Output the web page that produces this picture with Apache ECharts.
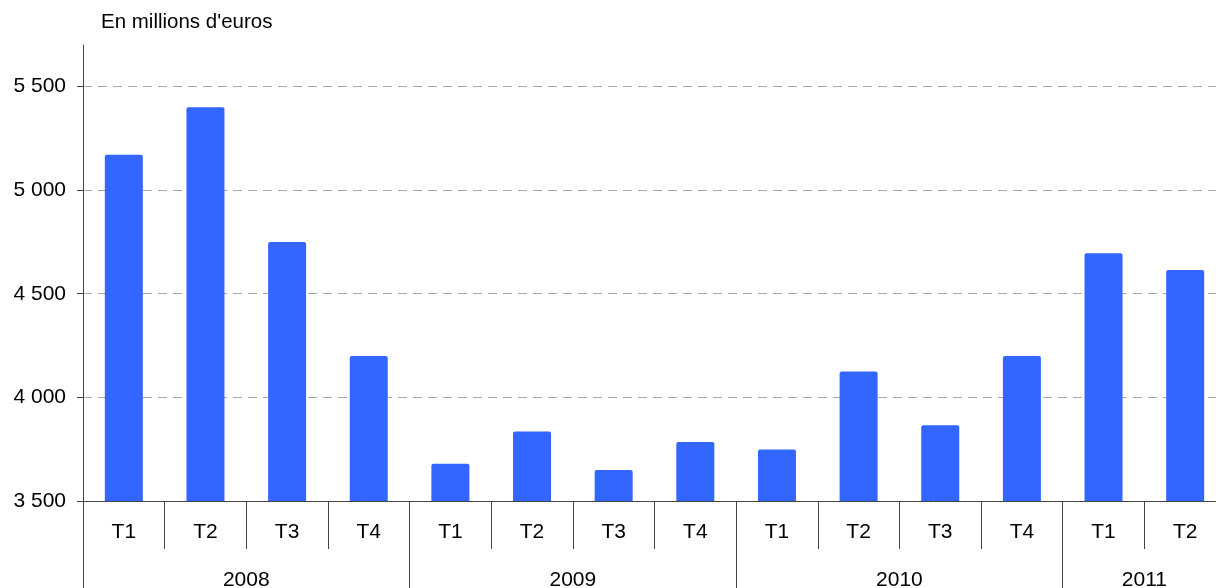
<!DOCTYPE html>
<html>
<head>
<meta charset="utf-8">
<script src="https://cdn.jsdelivr.net/npm/echarts@6/dist/echarts.min.js"></script>
<style>
html,body{margin:0;padding:0;background:#fff;}
#c{width:1216px;height:588px;}
</style>
</head>
<body>
<div id="c"></div>
<script>
var quarters = ['T1','T2','T3','T4','T1','T2','T3','T4','T1','T2','T3','T4','T1','T2'];
var values = [5170, 5400, 4750, 4200, 3680, 3835, 3650, 3785, 3748, 4125, 3865, 4200, 4695, 4615];
var years = ['2008','2009','2010','2011'];
var quartersPerYear = [4, 4, 4, 2];
var unitLabel = "En millions d'euros";
var yTicks = [3500, 4000, 4500, 5000, 5500];

// Year axis on a half-category grid (boundaryGap false) so labels sit at group centers
var yearCats = [];
var yearTickIdx = [];
var pos = 0;
for (var i = 0; i < 29; i++) yearCats.push('');
for (var y = 0; y < years.length; y++) {
  yearTickIdx.push(pos * 2);
  var center = pos + quartersPerYear[y] / 2;
  yearCats[center * 2] = years[y];
  pos += quartersPerYear[y];
}

function fmt(v) {
  return String(v).replace(/\B(?=(\d{3})+(?!\d))/g, ' ');
}

var chart = echarts.init(document.getElementById('c'), null, {renderer: 'canvas'});
var FONT = 'Liberation Sans, Arial, sans-serif';
chart.setOption({
  animation: false,
  backgroundColor: '#ffffff',
  graphic: [{
    type: 'text',
    left: 101,
    top: 12,
    style: {text: unitLabel, font: '20.5px ' + FONT, fill: '#000'}
  }],
  grid: {left: 83, width: 1143, top: 45, bottom: 87, containLabel: false, outerBoundsMode: 'none'},
  xAxis: [{
    type: 'category',
    data: quarters,
    position: 'bottom',
    boundaryGap: true,
    axisLine: {show: true, lineStyle: {color: '#444', width: 1}},
    axisTick: {show: true, interval: 0, length: 48, lineStyle: {color: '#444'}},
    axisLabel: {interval: 0, margin: 21, fontSize: 21, fontFamily: FONT, color: '#000'},
    splitLine: {show: false}
  }, {
    type: 'category',
    data: yearCats,
    position: 'bottom',
    boundaryGap: false,
    axisLine: {show: false},
    axisTick: {
      show: true, length: 95, lineStyle: {color: '#444'},
      interval: function (idx) { return yearTickIdx.indexOf(idx) >= 0; }
    },
    axisLabel: {
      margin: 69, fontSize: 21, fontFamily: FONT, color: '#000',
      interval: function (idx, val) { return val !== ''; }
    },
    splitLine: {show: false}
  }],
  yAxis: {
    type: 'value',
    min: 3500,
    max: 5700,
    interval: 500,
    axisLine: {show: true, lineStyle: {color: '#444', width: 1}},
    axisTick: {show: true, length: 6, customValues: yTicks, lineStyle: {color: '#444'}},
    axisLabel: {
      margin: 17, fontSize: 21, fontFamily: FONT, color: '#000',
      customValues: yTicks,
      formatter: function (v) { return fmt(v); }
    },
    splitLine: {
      show: true, showMinLine: false,
      lineStyle: {color: '#a8a8a8', type: [9, 6], width: 1}
    }
  },
  series: [{
    type: 'bar',
    xAxisIndex: 0,
    data: values,
    barWidth: 38,
    itemStyle: {color: '#3366ff', borderRadius: [2, 2, 0, 0]}
  }]
});
</script>
</body>
</html>
